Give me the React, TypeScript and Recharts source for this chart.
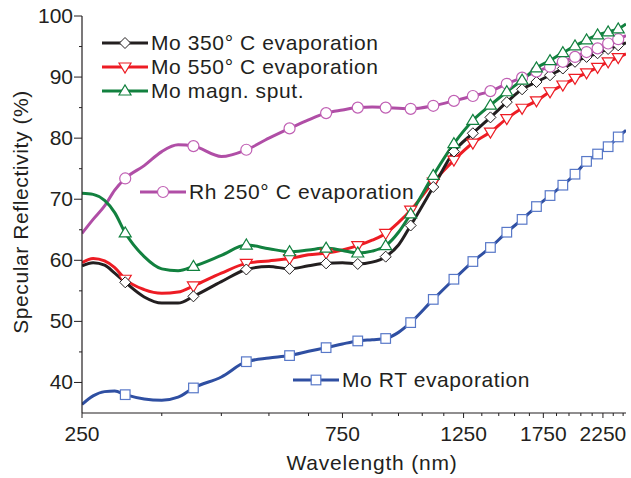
import React from 'react';
import { LineChart, Line, XAxis, YAxis } from 'recharts';

const wavelengths = [250, 262, 275, 287, 300, 325, 350, 375, 400, 450, 500, 550, 600, 650, 700, 750, 800, 850, 900, 950, 1000,
  1100, 1200, 1300, 1400, 1500, 1600, 1700, 1800, 1900, 2000, 2100, 2200, 2300, 2400, 2480];

const mo350 = [59.1, 59.6, 59.2, 57.9, 56.4, 54.0, 53.0, 53.0, 54.1, 56.5, 58.5, 59.0, 58.6, 59.1, 59.5, 59.6, 59.4, 59.7, 60.6, 62.5, 65.7,
  72.0, 77.8, 80.8, 83.4, 85.9, 88.0, 89.2, 90.3, 91.4, 92.5, 93.3, 93.9, 94.6, 95.2, 95.6];
const mo550 = [59.6, 60.3, 59.9, 58.8, 56.9, 55.2, 54.6, 54.8, 55.8, 57.9, 59.5, 59.9, 60.3, 60.9, 61.2, 61.7, 62.4, 63.3, 64.4, 66.2, 68.2,
  72.8, 76.4, 79.2, 81.0, 83.2, 84.9, 86.1, 87.6, 88.7, 89.8, 90.7, 91.6, 92.5, 93.2, 93.8];
const moSput = [71.0, 70.8, 69.8, 67.8, 64.5, 60.6, 58.6, 58.3, 59.0, 60.8, 62.5, 61.9, 61.4, 61.7, 62.0, 61.6, 61.2, 61.5, 62.4, 64.6, 67.6,
  73.9, 79.1, 82.9, 85.4, 87.6, 89.5, 91.5, 92.7, 94.0, 95.1, 96.1, 96.9, 97.4, 97.9, 98.7];
const rh250 = [64.4, 66.7, 68.9, 71.5, 73.4, 75.5, 77.8, 78.9, 78.7, 77.0, 78.1, 80.0, 81.6, 83.0, 84.1, 84.6, 85.0, 85.1, 85.0, 84.9, 84.8,
  85.3, 86.1, 86.9, 87.7, 88.9, 89.9, 90.9, 91.7, 92.5, 93.3, 94.1, 94.7, 95.5, 96.2, 96.8];
const moRT = [36.4, 37.8, 38.5, 38.6, 38.0, 37.3, 37.1, 37.6, 39.1, 40.9, 43.4, 44.0, 44.4, 45.1, 45.7, 46.3, 46.8, 47.0, 47.2, 48.2, 49.8,
  53.6, 56.9, 59.8, 62.1, 64.6, 66.7, 68.8, 70.6, 72.3, 74.1, 76.2, 77.4, 78.6, 80.2, 81.3];

const xMajor = [250, 750, 1250, 1750, 2250];
const xTicks = [250, 350, 450, 550, 650, 750, 850, 950, 1050, 1150, 1250, 1350, 1450, 1550, 1650, 1750, 1850, 1950, 2050, 2150, 2250, 2350, 2450];
const yMajor = [40, 50, 60, 70, 80, 90, 100];
const yTicks = [40, 45, 50, 55, 60, 65, 70, 75, 80, 85, 90, 95, 100];

const INK = '#231f20';
const BLACK = '#231f20';
const RED = '#ed1c24';
const GREEN = '#12813f';
const MAGENTA = '#b04ea6';
const MAGENTA_MK = '#c060b4';
const BLUE = '#2f4fa2';
const BLUE_MK = '#5878c8';
const FONT = '"Liberation Sans", Arial, sans-serif';

const data = wavelengths.map((w, i) => ({
  w, mo350: mo350[i], mo550: mo550[i], moSput: moSput[i], rh250: rh250[i], moRT: moRT[i],
}));

const diamond = (cx: number, cy: number, c: string, k?: any) => (
  <path key={k} d={`M${cx},${cy - 5.5}L${cx + 5.5},${cy}L${cx},${cy + 5.5}L${cx - 5.5},${cy}Z`} fill="#fff" stroke={c} strokeWidth={1} />
);
const triDown = (cx: number, cy: number, c: string, k?: any) => (
  <path key={k} d={`M${cx - 6},${cy - 4}L${cx + 6},${cy - 4}L${cx},${cy + 6}Z`} fill="#fff" stroke={c} strokeWidth={1.2} />
);
const triUp = (cx: number, cy: number, c: string, k?: any) => (
  <path key={k} d={`M${cx - 6},${cy + 4}L${cx + 6},${cy + 4}L${cx},${cy - 6}Z`} fill="#fff" stroke={c} strokeWidth={1.2} />
);
const circle = (cx: number, cy: number, c: string, k?: any) => (
  <circle key={k} cx={cx} cy={cy} r={5.5} fill="#fff" stroke={c} strokeWidth={1.2} />
);
const square = (cx: number, cy: number, c: string, k?: any) => (
  <rect key={k} x={cx - 4.8} y={cy - 4.8} width={9.6} height={9.6} fill="#fff" stroke={c} strokeWidth={1.2} />
);

// markers only every 100 nm
const makeDot = (shape: any, color: string) => (props: any) => {
  const { cx, cy, payload, index } = props;
  if (payload.w % 100 !== 0 || cx == null || cy == null) return <g key={`d-${index}`} />;
  return shape(cx, cy, color, `d-${index}`);
};

const BottomTick = ({ x, y, payload }: any) => {
  const major = xMajor.includes(payload.value);
  return (
    <g>
      <line x1={x} x2={x} y1={y} y2={y + (major ? 5 : 3)} stroke={INK} strokeWidth={1} />
      {major && (
        <text x={x} y={y + 28} textAnchor="middle" fontSize={21} fontFamily={FONT} fill={INK}>{payload.value}</text>
      )}
    </g>
  );
};

const TopTick = ({ x, y, payload }: any) => {
  const major = xMajor.includes(payload.value);
  return <line x1={x} x2={x} y1={y} y2={y + (major ? 7 : 4)} stroke={INK} strokeWidth={1} />;
};

const LeftTick = ({ x, y, payload }: any) => {
  const major = yMajor.includes(payload.value);
  return (
    <g>
      <line x1={x - (major ? 8 : 3)} x2={x} y1={y} y2={y} stroke={INK} strokeWidth={1} />
      {major && (
        <text x={x - 9} y={y + 7} textAnchor="end" fontSize={21} fontFamily={FONT} fill={INK}>{payload.value}</text>
      )}
    </g>
  );
};

const RightTick = ({ x, y, payload }: any) => {
  const major = yMajor.includes(payload.value);
  return <line x1={x - (major ? 6 : 3)} x2={x} y1={y} y2={y} stroke={INK} strokeWidth={1} />;
};

const legendRows = [
  { label: 'Mo 350° C evaporation', color: BLACK, mk: BLACK, shape: diamond, x: 102, y: 43 },
  { label: 'Mo 550° C evaporation', color: RED, mk: RED, shape: triDown, x: 102, y: 67 },
  { label: 'Mo magn. sput.', color: GREEN, mk: GREEN, shape: triUp, x: 102, y: 91 },
  { label: 'Rh 250° C evaporation', color: MAGENTA, mk: MAGENTA_MK, shape: circle, x: 140, y: 192 },
  { label: 'Mo RT evaporation', color: BLUE, mk: BLUE_MK, shape: square, x: 293, y: 380 },
];

export default function App() {
  return (
    <div style={{ position: 'absolute', left: 0, top: 0, width: 631, height: 478, background: '#fff' }}>
      <LineChart width={631} height={478} data={data} margin={{ top: 16, right: 5, bottom: 0, left: 0 }}>
        <XAxis
          dataKey="w" type="number" scale="log" domain={[250, 2480]} allowDataOverflow
          ticks={xTicks} interval={0} tickSize={0} tickMargin={0} tick={<BottomTick />}
          tickLine={false} axisLine={{ stroke: INK, strokeWidth: 1.2 }} height={65}
        />
        <XAxis
          xAxisId="top" orientation="top" dataKey="w" type="number" scale="log" domain={[250, 2480]} allowDataOverflow
          ticks={xTicks} interval={0} tickSize={0} tickMargin={0} tick={<TopTick />}
          tickLine={false} axisLine={{ stroke: INK, strokeWidth: 1.2 }} height={0}
        />
        <YAxis
          type="number" domain={[35, 100]} allowDataOverflow ticks={yTicks} interval={0}
          tickSize={0} tickMargin={0} tick={<LeftTick />} tickLine={false}
          axisLine={{ stroke: INK, strokeWidth: 1.2 }} width={82}
        />
        <YAxis
          yAxisId="right" orientation="right" type="number" domain={[35, 100]} allowDataOverflow ticks={yTicks} interval={0}
          tickSize={0} tickMargin={0} tick={<RightTick />} tickLine={false}
          axisLine={{ stroke: INK, strokeWidth: 1.2 }} width={0}
        />
        <Line type="monotone" dataKey="moRT" stroke={BLUE} strokeWidth={3} dot={makeDot(square, BLUE_MK)} isAnimationActive={false} />
        <Line type="monotone" dataKey="mo550" stroke={RED} strokeWidth={3} dot={makeDot(triDown, RED)} isAnimationActive={false} />
        <Line type="monotone" dataKey="mo350" stroke={BLACK} strokeWidth={3} dot={makeDot(diamond, BLACK)} isAnimationActive={false} />
        <Line type="monotone" dataKey="rh250" stroke={MAGENTA} strokeWidth={3} dot={makeDot(circle, MAGENTA_MK)} isAnimationActive={false} />
        <Line type="monotone" dataKey="moSput" stroke={GREEN} strokeWidth={3} dot={makeDot(triUp, GREEN)} isAnimationActive={false} />
      </LineChart>
      <svg width={631} height={478} style={{ position: 'absolute', left: 0, top: 0, pointerEvents: 'none' }}>
        {legendRows.map((r, i) => (
          <g key={i}>
            <line x1={r.x} x2={r.x + 46} y1={r.y} y2={r.y} stroke={r.color} strokeWidth={3} />
            {r.shape(r.x + 23, r.y, r.mk)}
            <text x={r.x + 49} y={r.y + 7} fontSize={21} letterSpacing={0.6} fontFamily={FONT} fill={INK}>{r.label}</text>
          </g>
        ))}
        <text x={372} y={470} textAnchor="middle" fontSize={21} letterSpacing={0.8} fontFamily={FONT} fill={INK}>Wavelength (nm)</text>
        <text
          x={0} y={0} transform="translate(28, 212) rotate(-90)" textAnchor="middle"
          fontSize={21} letterSpacing={0.6} fontFamily={FONT} fill={INK}
        >
          Specular Reflectivity (%)
        </text>
      </svg>
    </div>
  );
}
